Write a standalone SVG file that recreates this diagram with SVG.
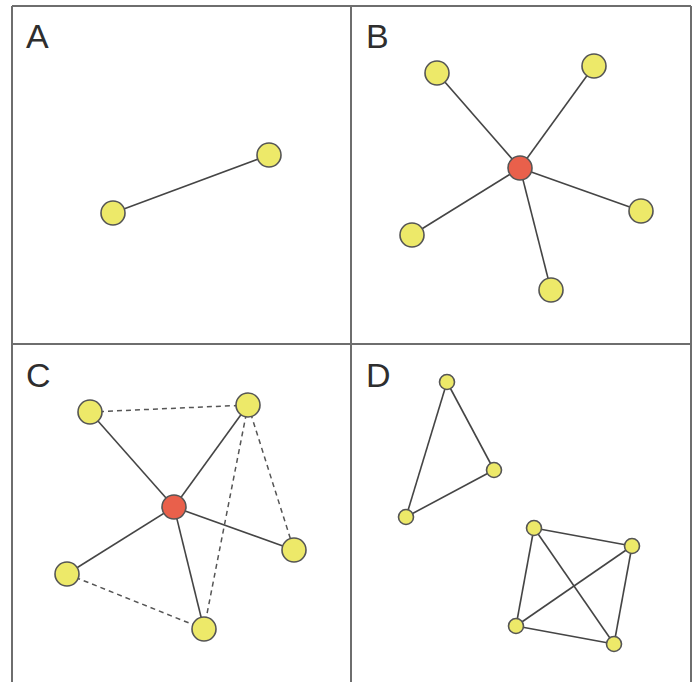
<svg xmlns="http://www.w3.org/2000/svg" width="696" height="682" viewBox="0 0 696 682">
<style>
.frame{fill:none;stroke:#6e6e6e;stroke-width:2}
.lbl{font-family:"Liberation Sans",Arial,sans-serif;font-size:34px;fill:#2e2e2e}
.e{stroke:#454545;stroke-width:1.6;fill:none}
.d{stroke:#555;stroke-width:1.5;stroke-dasharray:5,4;fill:none}
.y{fill:#ede969;stroke:#555;stroke-width:1.6}
.r{fill:#e9604b;stroke:#555;stroke-width:1.6}
</style>
<rect width="696" height="682" fill="#fff"/>
<g id="frames">
<line class="frame" x1="12" y1="6" x2="691" y2="6"/>
<line class="frame" x1="12" y1="6" x2="12" y2="682"/>
<line class="frame" x1="691" y1="6" x2="691" y2="682"/>
<line class="frame" x1="351" y1="6" x2="351" y2="682"/>
<line class="frame" x1="12" y1="344" x2="691" y2="344"/>
</g>
<g id="labels">
<text class="lbl" x="26" y="48">A</text>
<text class="lbl" x="366" y="48">B</text>
<text class="lbl" x="26" y="387">C</text>
<text class="lbl" x="366" y="387">D</text>
</g>
<g id="connectors">
<line class="e" x1="113" y1="213" x2="269" y2="155"/>
<line class="e" x1="520" y1="168" x2="437" y2="73"/>
<line class="e" x1="520" y1="168" x2="594" y2="66"/>
<line class="e" x1="520" y1="168" x2="641" y2="211"/>
<line class="e" x1="520" y1="168" x2="412" y2="235"/>
<line class="e" x1="520" y1="168" x2="551" y2="290"/>
<line class="e" x1="174" y1="507" x2="90" y2="412"/>
<line class="e" x1="174" y1="507" x2="248" y2="405"/>
<line class="e" x1="174" y1="507" x2="294" y2="550"/>
<line class="e" x1="174" y1="507" x2="67" y2="574"/>
<line class="e" x1="174" y1="507" x2="204" y2="629"/>
<line class="d" x1="90" y1="412" x2="248" y2="405"/>
<line class="d" x1="248" y1="405" x2="294" y2="550"/>
<line class="d" x1="248" y1="405" x2="204" y2="629"/>
<line class="d" x1="67" y1="574" x2="204" y2="629"/>
<line class="e" x1="447" y1="382" x2="494" y2="470"/>
<line class="e" x1="447" y1="382" x2="406" y2="517"/>
<line class="e" x1="494" y1="470" x2="406" y2="517"/>
<line class="e" x1="534" y1="528" x2="632" y2="546"/>
<line class="e" x1="534" y1="528" x2="516" y2="626"/>
<line class="e" x1="534" y1="528" x2="614" y2="644"/>
<line class="e" x1="632" y1="546" x2="516" y2="626"/>
<line class="e" x1="632" y1="546" x2="614" y2="644"/>
<line class="e" x1="516" y1="626" x2="614" y2="644"/>
</g>
<g id="A1"><circle class="y" cx="113" cy="213" r="12"/></g>
<g id="A2"><circle class="y" cx="269" cy="155" r="12"/></g>
<g id="B0"><circle class="r" cx="520" cy="168" r="12"/></g>
<g id="B1"><circle class="y" cx="437" cy="73" r="12"/></g>
<g id="B2"><circle class="y" cx="594" cy="66" r="12"/></g>
<g id="B3"><circle class="y" cx="641" cy="211" r="12"/></g>
<g id="B4"><circle class="y" cx="412" cy="235" r="12"/></g>
<g id="B5"><circle class="y" cx="551" cy="290" r="12"/></g>
<g id="C0"><circle class="r" cx="174" cy="507" r="12"/></g>
<g id="C1"><circle class="y" cx="90" cy="412" r="12"/></g>
<g id="C2"><circle class="y" cx="248" cy="405" r="12"/></g>
<g id="C3"><circle class="y" cx="294" cy="550" r="12"/></g>
<g id="C4"><circle class="y" cx="67" cy="574" r="12"/></g>
<g id="C5"><circle class="y" cx="204" cy="629" r="12"/></g>
<g id="D1"><circle class="y" cx="447" cy="382" r="7.5"/></g>
<g id="D2"><circle class="y" cx="494" cy="470" r="7.5"/></g>
<g id="D3"><circle class="y" cx="406" cy="517" r="7.5"/></g>
<g id="D4"><circle class="y" cx="534" cy="528" r="7.5"/></g>
<g id="D5"><circle class="y" cx="632" cy="546" r="7.5"/></g>
<g id="D6"><circle class="y" cx="516" cy="626" r="7.5"/></g>
<g id="D7"><circle class="y" cx="614" cy="644" r="7.5"/></g>
</svg>
